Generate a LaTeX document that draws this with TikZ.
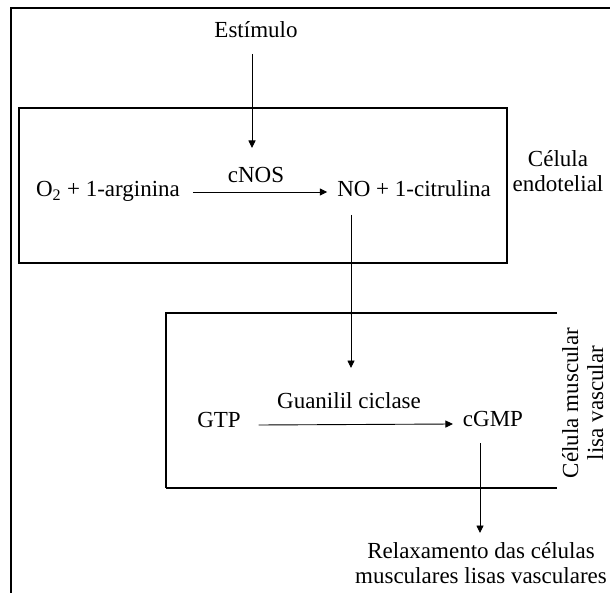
\documentclass[tikz,border=0pt]{standalone}
\usepackage{fontspec}
\setmainfont{Liberation Serif}
\usetikzlibrary{arrows.meta}
\begin{document}
\begin{tikzpicture}[x=1pt,y=-1pt,
  txt/.style={font=\fontsize{23}{25}\selectfont, inner sep=0pt, outer sep=0pt, anchor=base},
  arr/.style={line width=0.9pt, -{Triangle[length=7.5pt,width=7pt]}},
  frame/.style={line width=1.9pt},
  cellbox/.style={line width=1.6pt},
  junction/.style={circle, fill=black, inner sep=0pt, minimum size=3pt}]
\useasboundingbox (0,0) rectangle (610,593);
% outer frame
\draw[frame] (11,593) -- (11,8) -- (610,8);
% endothelial cell
\draw[cellbox] (19,108) rectangle (507,263);
% smooth muscle cell
\draw[line width=1.1pt] (557,313) -- (166,313) -- (166,488);
\draw[line width=2pt] (166,488) -- (557,488);
% texts
\node[txt] (est) at (256,38) {Estímulo};
\node[txt] (arg) at (108,197) {O\textsubscript{2} + 1-arginina};
\node[txt] (cnos) at (256,183) {cNOS};
\node[txt] (no) at (414,197) {NO + 1-citrulina};
\node[txt, align=center] (endo) at (558,192) {Célula\\endotelial};
\node[txt] (gtp) at (219,427) {GTP};
\node[txt] (gua) at (349,408) {Guanilil ciclase};
\node[txt] (cgmp) at (493,426) {cGMP};
\node[txt, align=center, rotate=90] (musc) at (603,403) {Célula muscular\\lisa vascular};
\node[txt, align=center] (rel) at (481,583) {Relaxamento das células\\musculares lisas vasculares};
% connectors
\coordinate (e1) at (252,148);
\draw[arr] (est.base -| e1) ++(0,16) -- (e1);
\draw[arr] ([xshift=13pt,yshift=5pt]arg.base east) -- ([xshift=-10pt,yshift=5pt]no.base west);
\coordinate (n1) at (351,368);
\draw[arr] (no.base -| n1) ++(0,18) -- (n1);
\node[junction] (jn) at (351,313) {};
\draw[arr] ([xshift=18pt,yshift=2pt]gtp.base east) -- ([xshift=-10pt,yshift=2pt]cgmp.base west);
\coordinate (c1) at (480,533);
\draw[arr] (cgmp.base -| c1) ++(0,17) -- (c1);
\end{tikzpicture}
\end{document}
